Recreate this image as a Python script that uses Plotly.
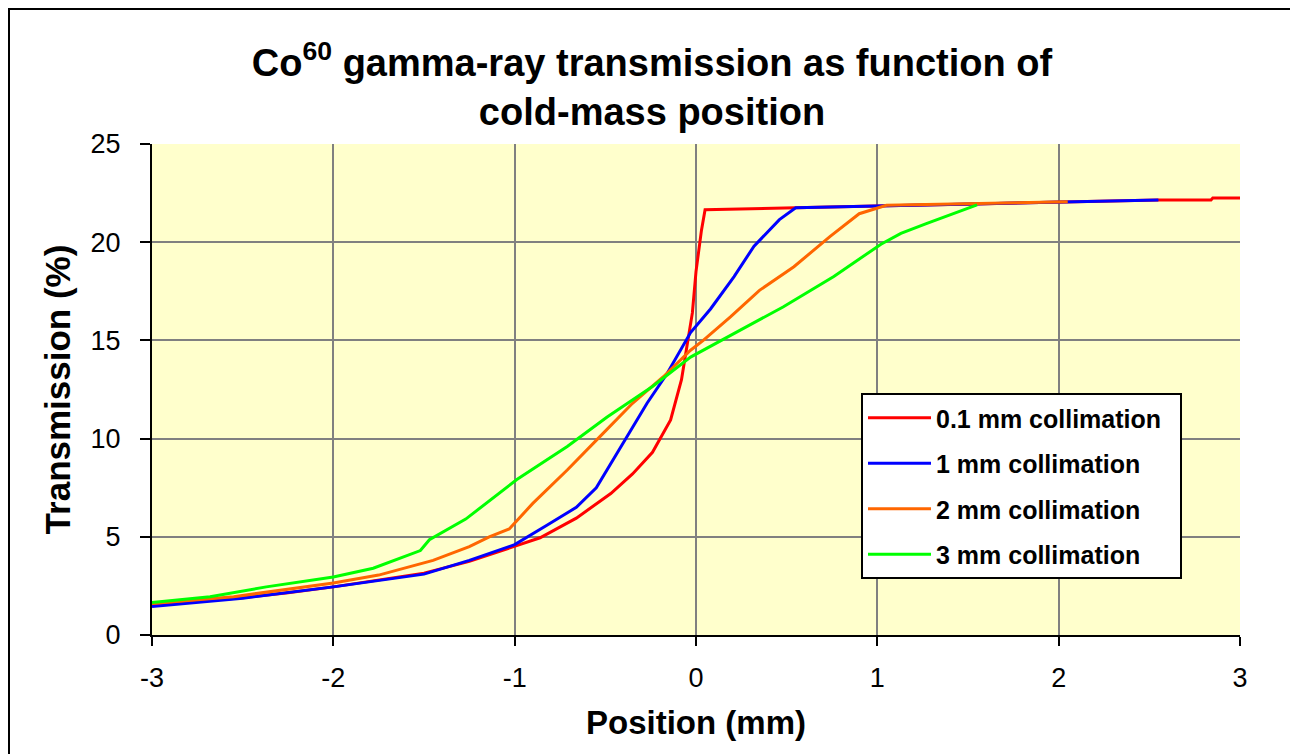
import plotly.graph_objects as go

# ---- data ----
x_01 = [-3.0, -2.75, -2.5, -2.25, -2.0, -1.75, -1.5, -1.25, -1.0, -0.86, -0.66, -0.47, -0.35, -0.24,
        -0.14, -0.08, -0.05, -0.02, 0.0, 0.03, 0.05, 0.35, 0.55, 1.05, 1.55, 2.05, 2.55, 2.84, 2.85, 3.0]
y_01 = [1.5, 1.72, 1.9, 2.15, 2.45, 2.8, 3.15, 3.75, 4.5, 4.95, 5.95, 7.2, 8.2, 9.3,
        10.95, 13.0, 14.7, 16.4, 18.5, 20.6, 21.65, 21.7, 21.75, 21.85, 21.95, 22.05, 22.15, 22.15, 22.25, 22.25]

x_1 = [-3.0, -2.5, -2.0, -1.5, -1.25, -1.0, -0.82, -0.66, -0.55, -0.38, -0.27, -0.16, -0.03,
       0.08, 0.21, 0.32, 0.46, 0.55, 1.05, 1.55, 2.05, 2.55]
y_1 = [1.45, 1.87, 2.45, 3.1, 3.8, 4.6, 5.6, 6.5, 7.5, 10.1, 11.8, 13.3, 15.4,
       16.6, 18.25, 19.8, 21.15, 21.75, 21.85, 21.95, 22.05, 22.15]

x_2 = [-3.0, -2.55, -2.0, -1.75, -1.45, -1.25, -1.14, -1.03, -0.9, -0.71, -0.53, -0.35, -0.18,
       -0.03, 0.04, 0.19, 0.35, 0.54, 0.74, 0.9, 1.05, 1.55, 2.05]
y_2 = [1.6, 1.95, 2.65, 3.05, 3.8, 4.5, 5.0, 5.4, 6.7, 8.4, 10.1, 11.8, 13.15,
       14.5, 15.0, 16.2, 17.55, 18.75, 20.3, 21.45, 21.88, 21.98, 22.06]

x_3 = [-3.0, -2.68, -2.37, -2.0, -1.78, -1.52, -1.47, -1.27, -0.99, -0.71, -0.49, -0.24, -0.03,
       0.21, 0.48, 0.76, 1.02, 1.13, 1.27, 1.55]
y_3 = [1.65, 1.95, 2.45, 2.95, 3.4, 4.3, 4.85, 5.9, 7.9, 9.6, 11.1, 12.65, 14.15,
       15.35, 16.7, 18.25, 19.9, 20.45, 20.95, 21.9]

series_names = ["0.1 mm collimation", "1 mm collimation", "2 mm collimation", "3 mm collimation"]
series_colors = ["#FF0000", "#0000FF", "#FF6600", "#00FF00"]
series_x = [x_01, x_1, x_2, x_3]
series_y = [y_01, y_1, y_2, y_3]

x_ticks = [-3, -2, -1, 0, 1, 2, 3]
y_ticks = [0, 5, 10, 15, 20, 25]

FONT = "Arial, 'Liberation Sans', sans-serif"

W, H = 1290, 746          # page has an 8px body margin
L, T = 144, 136           # plot area left/top in figure pixels
PW, PH = 1088, 491        # plot area size

fig = go.Figure()
for i, (nm, col, xs, ys) in enumerate(zip(series_names, series_colors, series_x, series_y)):
    fig.add_trace(go.Scatter(x=xs, y=ys, mode="lines", name=nm + "\u00a0\u00a0", legendgroup=f"g{i}",
                             line=dict(color=col, width=3)))

fig.update_layout(
    width=W, height=H,
    paper_bgcolor="white",
    plot_bgcolor="#FFFFCC",
    margin=dict(l=L, r=W - L - PW, t=T, b=H - T - PH, autoexpand=False),
    font=dict(family=FONT, color="black"),
    title=dict(
        text="Co<sup>60</sup> gamma-ray transmission as function of<br>cold-mass position",
        font=dict(family=FONT, size=38, weight="bold", color="black"),
        x=(652 - 8) / W, xref="container", xanchor="center",
        y=1 - 68 / H, yref="container", yanchor="middle",
    ),
    showlegend=True,
    legend=dict(
        x=(861 - 152) / PW, y=(635 - 393) / PH, xanchor="left", yanchor="top",
        bgcolor="white", bordercolor="black", borderwidth=2,
        font=dict(family=FONT, size=25, weight="bold", color="black"),
        tracegroupgap=10, itemwidth=63,
    ),
)

fig.update_xaxes(
    range=[-3, 3], tickvals=x_ticks, ticktext=[str(v) for v in x_ticks],
    showgrid=True, gridcolor="#808080", gridwidth=2, zeroline=False,
    showline=True, linecolor="black", linewidth=2,
    ticks="outside", ticklen=9, tickwidth=2, tickcolor="black",
    tickfont=dict(family=FONT, size=27, color="black"), ticklabelstandoff=9,
    title=dict(text="Position (mm)", font=dict(family=FONT, size=33, weight="bold", color="black"), standoff=18),
    automargin=False,
)
fig.update_yaxes(
    range=[0, 25], tickvals=y_ticks, ticktext=[str(v) for v in y_ticks],
    showgrid=True, gridcolor="#808080", gridwidth=2, zeroline=False,
    showline=True, linecolor="black", linewidth=2,
    ticks="outside", ticklen=10, tickwidth=2, tickcolor="black",
    tickfont=dict(family=FONT, size=27, color="black"), ticklabelstandoff=14,
    title=dict(text="Transmission (%)", font=dict(family=FONT, size=35, weight="bold", color="black"), standoff=9),
    automargin=False,
)

# outer chart frame (page coords 9..1295 horizontally, from top 9 down past the bottom)
fig.add_shape(type="rect", xref="paper", yref="paper",
              x0=(9 - 152) / PW, x1=(1295 - 152) / PW,
              y0=(635 - 770) / PH, y1=(635 - 9) / PH,
              line=dict(color="black", width=2), fillcolor="rgba(0,0,0,0)", layer="above")

fig.write_html("out.html")
